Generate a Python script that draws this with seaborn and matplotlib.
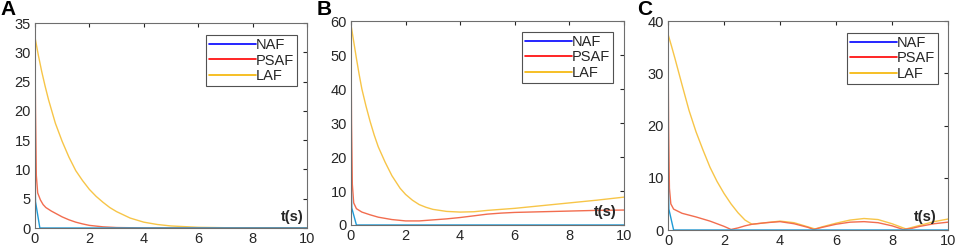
import numpy as np
import pandas as pd
import matplotlib
matplotlib.use('Agg')
import matplotlib.pyplot as plt
import seaborn as sns
from matplotlib.lines import Line2D

# Panel A
a_naf_t = [0, 0.02, 0.18, 10]
a_naf_y = [10, 4.5, 0, 0]
a_psaf_t = [0, 0.02, 0.05, 0.1, 0.2, 0.3, 0.4, 0.6, 0.8, 1.0, 1.25, 1.5, 1.75, 2.0, 2.5, 3.0, 4.0, 10]
a_psaf_y = [32, 20, 9, 6, 4.8, 4.0, 3.5, 2.9, 2.4, 1.9, 1.4, 1.0, 0.7, 0.45, 0.2, 0.08, 0.02, 0]
a_laf_t = [0, 0.125, 0.25, 0.375, 0.5, 0.75, 1.0, 1.25, 1.5, 1.75, 2.0, 2.25, 2.5, 2.75, 3.0, 3.5, 4.0, 4.5, 5.0, 6.0, 7.0, 8.0, 10]
a_laf_y = [32.6, 29.5, 26.7, 24.2, 21.9, 17.9, 14.8, 12.1, 9.8, 8.1, 6.6, 5.4, 4.4, 3.5, 2.8, 1.7, 1.0, 0.6, 0.35, 0.12, 0.05, 0.02, 0]

# Panel B
b_naf_t = [0, 0.03, 0.2, 10]
b_naf_y = [15, 5, 0, 0]
b_psaf_t = [0, 0.02, 0.05, 0.1, 0.2, 0.4, 0.7, 1.0, 1.5, 2.0, 2.5, 3.0, 3.5, 4.0, 4.5, 5.0, 5.5, 6.0, 7.0, 8.0, 9.0, 10]
b_psaf_y = [58, 30, 12, 6.5, 4.8, 3.8, 3.0, 2.3, 1.6, 1.2, 1.2, 1.5, 1.8, 2.2, 2.7, 3.2, 3.5, 3.7, 3.9, 4.1, 4.3, 4.4]
b_laf_t = [0, 0.1, 0.2, 0.3, 0.4, 0.55, 0.7, 0.85, 1.0, 1.25, 1.5, 1.8, 2.0, 2.25, 2.5, 2.75, 3.0, 3.5, 4.0, 4.5, 5.0, 6.0, 7.0, 8.0, 9.0, 10]
b_laf_y = [59, 54, 49, 44.3, 40, 35, 30.5, 26.5, 23, 18.5, 14.5, 10.8, 9.0, 7.3, 6.0, 5.2, 4.6, 4.0, 3.8, 3.9, 4.3, 4.9, 5.7, 6.5, 7.3, 8.2]

# Panel C
c_naf_t = [0, 0.03, 0.2, 10]
c_naf_y = [12, 4, 0, 0]
c_psaf_t = [0, 0.02, 0.05, 0.1, 0.2, 0.5, 1.0, 1.5, 1.75, 2.0, 2.25, 2.5, 2.75, 3.0, 3.5, 4.0, 4.5, 5.0, 5.2, 5.5, 6.0, 6.5, 7.0, 7.5, 8.0, 8.4, 8.7, 9.0, 9.5, 10]
c_psaf_y = [37, 20, 8, 5, 4.0, 3.2, 2.5, 1.7, 1.2, 0.7, 0.1, 0.4, 0.8, 1.1, 1.4, 1.6, 1.2, 0.5, 0.1, 0.5, 1.1, 1.5, 1.6, 1.4, 0.8, 0.1, 0.3, 0.7, 1.2, 1.5]
c_laf_t = [0, 0.125, 0.25, 0.375, 0.5, 0.75, 1.0, 1.25, 1.5, 1.75, 2.0, 2.25, 2.5, 2.75, 3.0, 3.5, 4.0, 4.5, 5.0, 5.25, 5.5, 6.0, 6.5, 7.0, 7.5, 8.0, 8.5, 9.0, 9.5, 10]
c_laf_y = [37.5, 35.2, 32.8, 30.3, 27.8, 22.9, 18.8, 15.3, 12.0, 9.3, 7.0, 5.0, 3.3, 1.9, 1.1, 1.4, 1.7, 1.4, 0.6, 0.2, 0.6, 1.3, 1.9, 2.2, 2.0, 1.2, 0.2, 0.9, 1.6, 2.1]

series_names = ['NAF', 'PSAF', 'LAF']
line_colors = {'NAF': '#1e9bd7', 'PSAF': '#f26d4f', 'LAF': '#f7c548'}
legend_colors = ['#0000ff', '#ff0000', '#f5b400']

panels = [
    ('A', [(a_naf_t, a_naf_y), (a_psaf_t, a_psaf_y), (a_laf_t, a_laf_y)], 35, 5),
    ('B', [(b_naf_t, b_naf_y), (b_psaf_t, b_psaf_y), (b_laf_t, b_laf_y)], 60, 10),
    ('C', [(c_naf_t, c_naf_y), (c_psaf_t, c_psaf_y), (c_laf_t, c_laf_y)], 40, 10),
]

rects = [
    [0.0366, 0.0843, 0.2848, 0.823],
    [0.3675, 0.0964, 0.2859, 0.819],
    [0.6995, 0.0763, 0.2932, 0.839],
]
legend_anchor = [(0.963, 0.941), (0.96, 0.946), (0.964, 0.943)]
ts_pos = [(0.945, 0.054), (0.93, 0.064), (0.92, 0.062)]
letter_x = [0.0, 0.332, 0.667]

sns.set_style('white')
plt.rcParams['font.family'] = ['Liberation Sans', 'DejaVu Sans']

fig = plt.figure(figsize=(9.55, 2.49), dpi=100)

for i, (letter, data, ymax, ystep) in enumerate(panels):
    ax = fig.add_axes(rects[i])
    frames = []
    for name, (t, y) in zip(series_names, data):
        frames.append(pd.DataFrame({'t': t, 'y': y, 'series': name}))
    df = pd.concat(frames, ignore_index=True)
    # LAF first, NAF on top
    for name in ['LAF', 'PSAF', 'NAF']:
        sub = df[df['series'] == name]
        sns.lineplot(data=sub, x='t', y='y', color=line_colors[name], linewidth=1.0,
                     sort=False, estimator=None, ax=ax, legend=False)
    ax.set_xlim(0, 10)
    ax.set_ylim(0, ymax)
    ax.set_xticks(np.arange(0, 11, 2))
    ax.set_yticks(np.arange(0, ymax + 1, ystep))
    ax.set_xlabel('')
    ax.set_ylabel('')
    ax.tick_params(direction='in', length=3, width=0.8, colors='#262626', labelsize=10.5,
                   top=True, right=True, pad=3)
    for sp in ax.spines.values():
        sp.set_color('#6e6e6e')
        sp.set_linewidth(0.8)

    handles = [Line2D([0], [0], color=c, lw=1.2) for c in legend_colors]
    leg = ax.legend(handles, series_names, loc='upper right', bbox_to_anchor=legend_anchor[i],
                    frameon=True, fancybox=False, fontsize=10.5, handlelength=3.2,
                    handletextpad=0.0, borderpad=0.2, labelspacing=0.1, borderaxespad=0)
    leg.get_frame().set_edgecolor('#262626')
    leg.get_frame().set_linewidth(0.8)

    ax.text(ts_pos[i][0], ts_pos[i][1], 't(s)', transform=ax.transAxes, ha='center',
            va='center', fontsize=10.5, fontweight='bold', color='#262626')
    fig.text(letter_x[i], 1.0, letter, ha='left', va='top', fontsize=15,
             fontweight='bold', color='black')

fig.savefig('out.png', dpi=100)
